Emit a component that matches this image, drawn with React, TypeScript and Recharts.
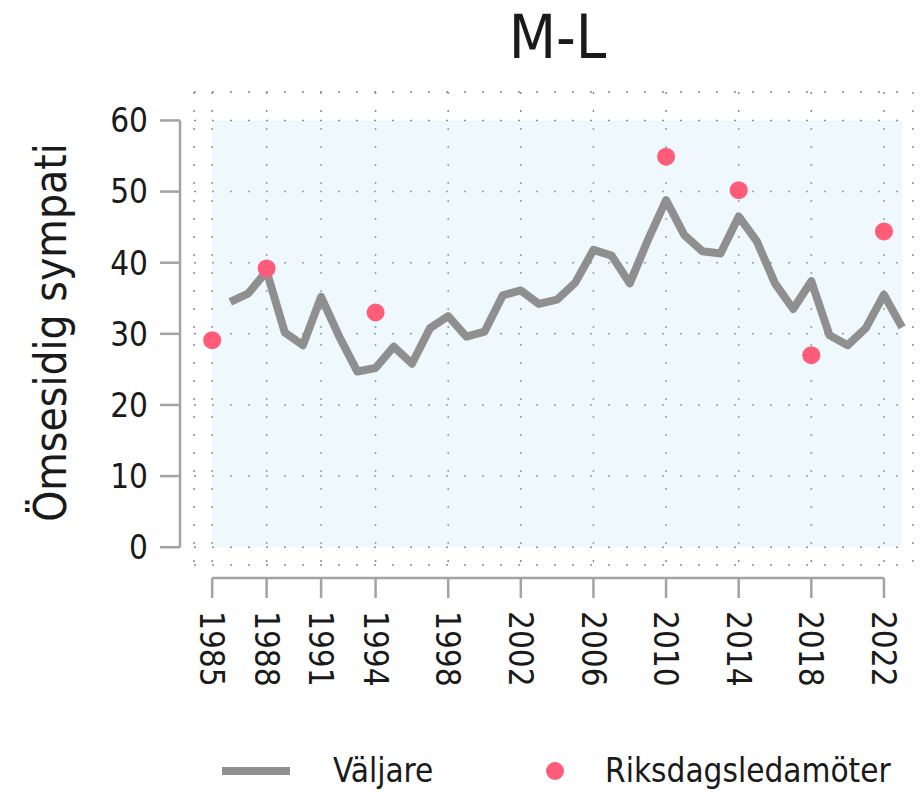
import React from 'react';
import {
  ComposedChart,
  Line,
  Scatter,
  XAxis,
  YAxis,
  CartesianGrid,
  ReferenceArea,
  ReferenceLine,
  Legend,
  Label,
} from 'recharts';

// Voters (line), one value per year 1986-2023
const voterYears = [
  1986, 1987, 1988, 1989, 1990, 1991, 1992, 1993, 1994, 1995, 1996, 1997, 1998,
  1999, 2000, 2001, 2002, 2003, 2004, 2005, 2006, 2007, 2008, 2009, 2010, 2011,
  2012, 2013, 2014, 2015, 2016, 2017, 2018, 2019, 2020, 2021, 2022, 2023,
];
const voterValues = [
  34.5, 35.7, 38.8, 30.2, 28.4, 35.2, 29.6, 24.7, 25.2, 28.2, 25.8, 30.8, 32.5,
  29.6, 30.3, 35.4, 36.1, 34.2, 34.8, 37.2, 41.8, 41.0, 37.1, 43.2, 48.8, 43.9,
  41.6, 41.3, 46.5, 43.0, 37.1, 33.5, 37.4, 29.8, 28.4, 30.8, 35.5, 30.9,
];

// Members of parliament (dots)
const mpYears = [1985, 1988, 1994, 2010, 2014, 2018, 2022];
const mpValues = [29.1, 39.2, 33.0, 54.9, 50.2, 27.0, 44.4];

const xTicks = [1985, 1988, 1991, 1994, 1998, 2002, 2006, 2010, 2014, 2018, 2022];
const yTicks = [0, 10, 20, 30, 40, 50, 60];

const voterData = voterYears.map((year, i) => ({ year, voters: voterValues[i] }));
const mpData = mpYears.map((year, i) => ({ year, mps: mpValues[i] }));

const FONT = "'DejaVu Sans Condensed', 'Liberation Sans Narrow', sans-serif";
const LINE_COLOR = '#8f8f8f';
const DOT_COLOR = '#ff5c7a';
const AXIS_COLOR = '#a3a3a3';
const TEXT_COLOR = '#1a1a1a';

const XTick = ({ x, y, payload }: any) => (
  <g>
    <line x1={x} x2={x} y1={y + 13} y2={y + 33} stroke={AXIS_COLOR} strokeWidth={2.5} />
    <text
      x={x}
      y={y + 46}
      dy="0.36em"
      textAnchor="start"
      transform={`rotate(90, ${x}, ${y + 46})`}
      fontFamily={FONT}
      fontSize={33}
      fill={TEXT_COLOR}
    >
      {payload.value}
    </text>
  </g>
);

const YTick = ({ x, y, payload }: any) => (
  <g>
    <line x1={x - 34} x2={x - 14} y1={y} y2={y} stroke={AXIS_COLOR} strokeWidth={2.5} />
    <text x={x - 46} y={y} dy="0.36em" textAnchor="end" fontFamily={FONT} fontSize={33} fill={TEXT_COLOR}>
      {payload.value}
    </text>
  </g>
);

const YLabel = ({ viewBox }: any) => {
  const cx = viewBox.x + 66;
  const cy = viewBox.y + viewBox.height / 2 + 4;
  return (
    <text
      x={cx}
      y={cy}
      textAnchor="middle"
      transform={`rotate(-90, ${cx}, ${cy})`}
      fontFamily={FONT}
      fontSize={44}
      fill={TEXT_COLOR}
    >
      Ömsesidig sympati
    </text>
  );
};

const renderLegend = ({ payload }: any) => {
  const items = [...(payload || [])].sort((a: any, b: any) => (a.type === 'line' ? -1 : 0) - (b.type === 'line' ? -1 : 0));
  return (
    <div style={{ display: 'flex', alignItems: 'center', height: 50, paddingLeft: 222, fontFamily: FONT, fontSize: 33, color: TEXT_COLOR }}>
      {items.map((entry: any, i: number) => (
        <div key={i} style={{ display: 'flex', alignItems: 'center', width: i === 0 ? 324 : 'auto', flexShrink: 0 }}>
          {entry.type === 'line' ? (
            <svg width={68} height={10}>
              <line x1={0} x2={68} y1={5} y2={5} stroke={LINE_COLOR} strokeWidth={8} />
            </svg>
          ) : (
            <svg width={18} height={18}>
              <circle cx={9} cy={9} r={9} fill={DOT_COLOR} />
            </svg>
          )}
          <span style={{ marginLeft: entry.type === 'line' ? 43 : 41, lineHeight: '50px', whiteSpace: 'nowrap' }}>{entry.value}</span>
        </div>
      ))}
    </div>
  );
};

export default function App() {
  return (
    <div style={{ position: 'absolute', left: 0, top: 0, width: 922, height: 796, background: '#fff' }}>
      <div
        style={{
          position: 'absolute',
          left: 212,
          width: 691,
          top: 6,
          textAlign: 'center',
          fontFamily: FONT,
          fontSize: 61,
          lineHeight: '61px',
          color: TEXT_COLOR,
        }}
      >
        M-L
      </div>
      <ComposedChart width={922} height={796} margin={{ top: 92, right: 9, bottom: 0, left: 0 }}>
        <ReferenceArea x1={1985} x2={2023} y1={0} y2={60} fill="#c0e5f5" fillOpacity={0.25} stroke="none" ifOverflow="visible" />
        <CartesianGrid stroke="#8a8a8a" strokeDasharray="2 16" strokeWidth={1.5} />
        <XAxis
          dataKey="year"
          type="number"
          domain={[1984, 2023.6]}
          ticks={xTicks}
          interval={0}
          height={181}
          axisLine={false}
          tickLine={false}
          tickSize={0}
          tickMargin={0}
          tick={<XTick />}
          allowDataOverflow
        />
        <YAxis
          type="number"
          domain={[-2.5, 64]}
          ticks={yTicks}
          interval={0}
          width={194}
          axisLine={false}
          tickLine={false}
          tickSize={0}
          tickMargin={0}
          tick={<YTick />}
          allowDataOverflow
        >
          <Label content={<YLabel />} />
        </YAxis>
        <ReferenceLine
          segment={[{ x: 1985, y: -4.33 }, { x: 2022, y: -4.33 }]}
          stroke={AXIS_COLOR}
          strokeWidth={2.5}
          ifOverflow="visible"
        />
        <ReferenceLine
          segment={[{ x: 1983.23, y: 0 }, { x: 1983.23, y: 60 }]}
          stroke={AXIS_COLOR}
          strokeWidth={2.5}
          ifOverflow="visible"
        />
        <Line
          data={voterData}
          dataKey="voters"
          name="Väljare"
          type="linear"
          stroke={LINE_COLOR}
          strokeWidth={8}
          strokeLinejoin="round"
          dot={false}
          activeDot={false}
          legendType="line"
          isAnimationActive={false}
        />
        <Scatter
          data={mpData}
          dataKey="mps"
          name="Riksdagsledamöter"
          fill={DOT_COLOR}
          legendType="circle"
          shape={(p: any) => <circle cx={p.cx} cy={p.cy} r={9} fill={DOT_COLOR} />}
          isAnimationActive={false}
        />
        <Legend verticalAlign="bottom" height={50} content={renderLegend} />
      </ComposedChart>
    </div>
  );
}
